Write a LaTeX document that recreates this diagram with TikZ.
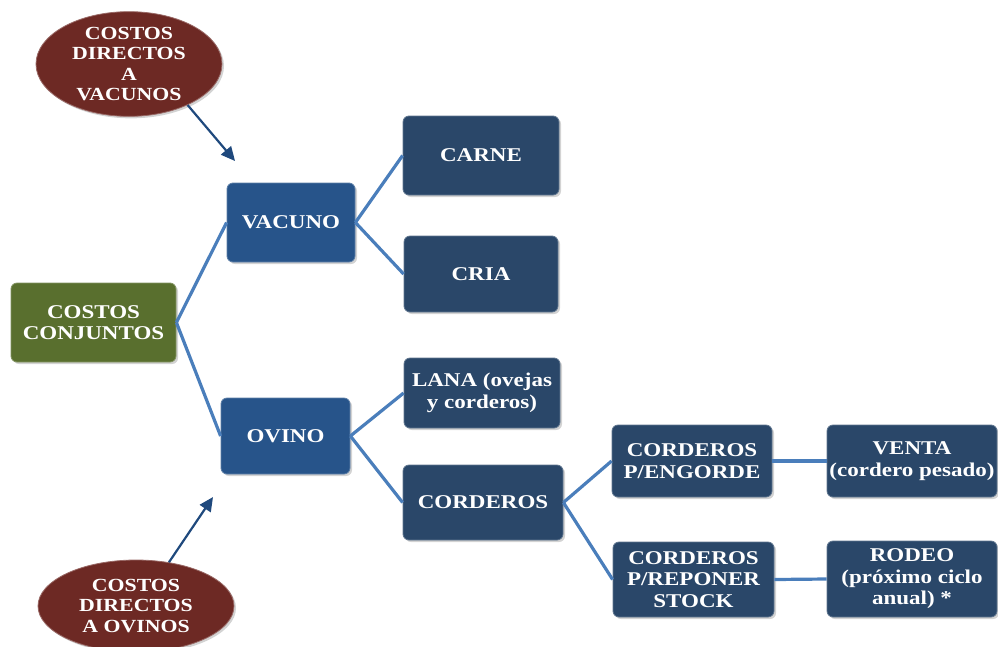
\documentclass[tikz,border=0pt]{standalone}
\usepackage{fontspec}
\setmainfont{Liberation Serif}[FakeStretch=1.18]
\usepackage{tikz}
\usetikzlibrary{arrows.meta,shapes,shadows}
\definecolor{cattleblue}{HTML}{27548A}
\definecolor{navybox}{HTML}{2A4769}
\definecolor{olivebox}{HTML}{596F2E}
\definecolor{wineell}{HTML}{6D2924}
\definecolor{linkblue}{HTML}{4A7EBB}
\definecolor{arrowblue}{HTML}{1F497D}

\begin{document}
\begin{tikzpicture}[x=1pt, y=-1pt,
    box/.style={rectangle, rounded corners=6pt, align=center, text=white,
        font=\bfseries\fontsize{19.5}{21.5}\selectfont, inner sep=2pt,
        drop shadow={opacity=0.35, shadow xshift=2pt, shadow yshift=-2pt}},
    navy/.style={box, fill=navybox, draw=navybox!75!white, line width=0.8pt},
    cattle/.style={box, fill=cattleblue, draw=cattleblue!75!white, line width=0.8pt},
    olive/.style={box, fill=olivebox, draw=olivebox!75!white, line width=0.8pt},
    costell/.style={ellipse, fill=wineell, draw=wineell!70!white, line width=0.8pt,
        align=center, text=white, inner sep=0pt,
        font=\bfseries\fontsize{18.5}{20.5}\selectfont,
        drop shadow={opacity=0.35, shadow xshift=2pt, shadow yshift=-2pt}},
    link/.style={linkblue, line width=3.2pt},
    feed/.style={arrowblue, line width=2.2pt, -{Triangle[length=14pt, width=13pt]}}]
    \useasboundingbox (0,0) rectangle (998,646);

    % Joint costs
    \node[olive, minimum width=165pt, minimum height=79pt] (conj) at (93.5,322.5)
        {COSTOS\\CONJUNTOS};

    % Cattle branch
    \node[cattle, minimum width=128pt, minimum height=79pt] (vacuno) at (291,222.5) {VACUNO};
    \node[navy, minimum width=156pt, minimum height=79pt] (carne) at (481,155.5) {CARNE};
    \node[navy, minimum width=154pt, minimum height=76pt] (cria) at (481,274) {CRIA};

    % Sheep branch
    \node[cattle, minimum width=129pt, minimum height=76pt] (ovino) at (285.5,436) {OVINO};
    \node[navy, minimum width=156pt, minimum height=70pt] (lana) at (482,393)
        {LANA (ovejas\\y corderos)};
    \node[navy, minimum width=160pt, minimum height=75pt] (corderos) at (483,502.5) {CORDEROS};
    \node[navy, minimum width=160pt, minimum height=72pt] (engorde) at (692,461)
        {CORDEROS\\P/ENGORDE};
    \node[navy, minimum width=161pt, minimum height=75pt] (reponer) at (693.5,579.5)
        {CORDEROS\\P/REPONER\\STOCK};
    \node[navy, minimum width=170pt, minimum height=72pt] (venta) at (912,461)
        {VENTA\\(cordero pesado)};
    \node[navy, minimum width=170pt, minimum height=76pt] (rodeo) at (912,579)
        {RODEO\\(próximo ciclo\\anual) *};

    % Direct costs
    \node[costell, minimum width=186pt, minimum height=100pt] (dirvac) at (129,64)
        {COSTOS\\DIRECTOS\\A\\VACUNOS};
    \node[costell, minimum width=196pt, minimum height=92pt] (dirovi) at (136,606)
        {COSTOS\\DIRECTOS\\A OVINOS};
    \coordinate (vacin) at (235,161);
    \coordinate (oviin) at (213,497);

    % Connectors
    \draw[link] (conj.east) -- (vacuno.west);
    \draw[link] (conj.east) -- (ovino.west);
    \draw[link] (vacuno.east) -- (carne.west);
    \draw[link] (vacuno.east) -- (cria.west);
    \draw[link] (ovino.east) -- (lana.west);
    \draw[link] (ovino.east) -- (corderos.west);
    \draw[link] (corderos.east) -- (engorde.west);
    \draw[link] (corderos.east) -- (reponer.west);
    \draw[link] (engorde.east) -- (venta.west);
    \draw[link] (reponer.east) -- (rodeo.west);

    % Arrows from direct costs
    \draw[feed] (dirvac.-35) -- (vacin);
    \draw[feed] (dirovi.53) -- (oviin);
\end{tikzpicture}
\end{document}
